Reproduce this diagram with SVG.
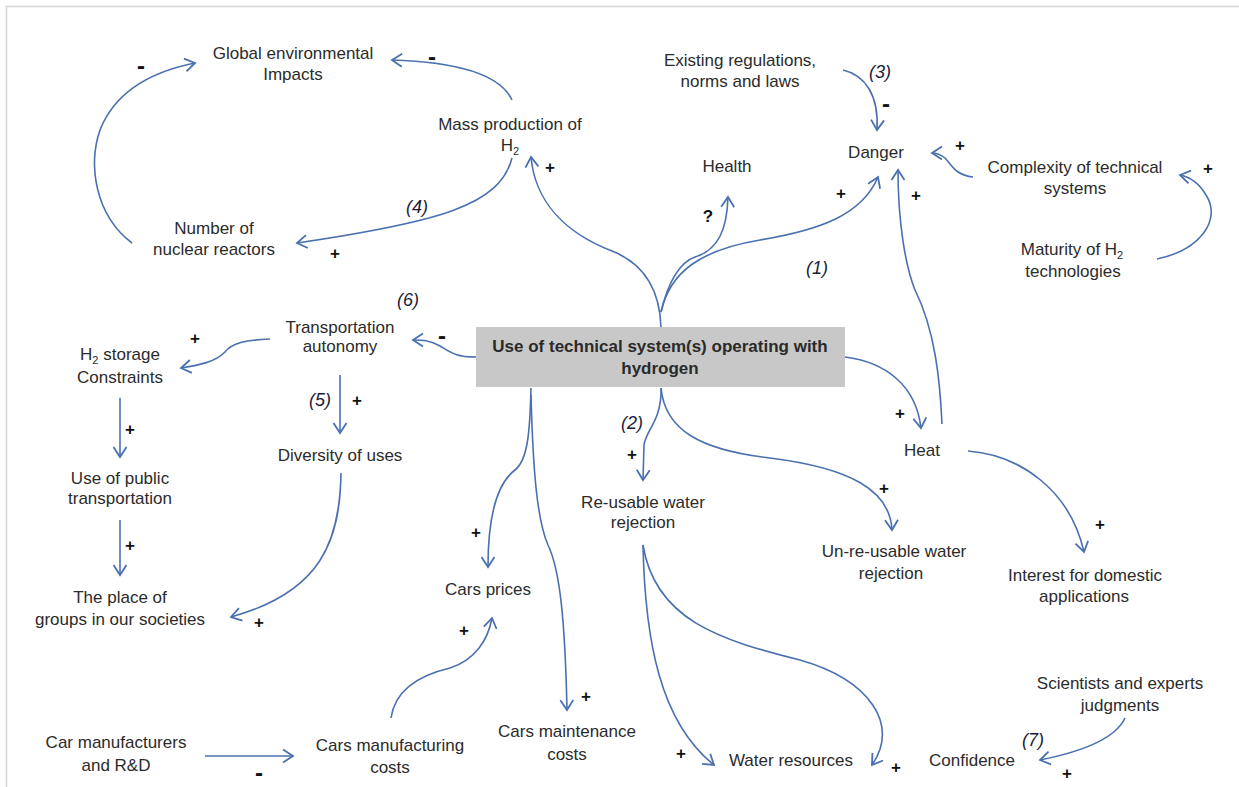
<svg xmlns="http://www.w3.org/2000/svg" width="1239" height="787" viewBox="0 0 1239 787">
  <style>
    .lbl { font-family: "Liberation Sans", Arial, sans-serif; font-size: 17px; fill: #2b2b2b; text-anchor: middle; }
    .main { font-family: "Liberation Sans", Arial, sans-serif; font-size: 17px; font-weight: bold; fill: #2a2a2a; text-anchor: middle; }
    .num { font-family: "Liberation Sans", Arial, sans-serif; font-size: 18px; font-style: italic; fill: #1c1c38; text-anchor: middle; }
    .sgn { font-family: "Liberation Sans", Arial, sans-serif; font-size: 17px; font-weight: bold; fill: #111111; text-anchor: middle; }
    .neg { font-family: "Liberation Sans", Arial, sans-serif; font-size: 24px; font-weight: bold; fill: #111111; text-anchor: middle; }
    .link { fill: none; stroke: #4a70b0; stroke-width: 1.6; marker-end: url(#chev); }
    .sub { font-size: 11px; }
  </style>
  <defs>
    <marker id="chev" markerUnits="userSpaceOnUse" markerWidth="16" markerHeight="16" refX="12" refY="8" orient="auto" overflow="visible">
      <path d="M2,1.5 L12,8 L2,14.5" fill="none" stroke="#4a70b0" stroke-width="1.8" stroke-linejoin="miter"/>
    </marker>
  </defs>

  <rect width="1239" height="787" fill="#ffffff"/>
  <!-- page frame -->
  <path d="M6.5,787 L6.5,6.5 L1239,6.5" fill="none" stroke="#d6d6d6" stroke-width="1.5"/>

  <!-- connectors -->
  <g id="connectors">
    <path class="link" d="M132,243 C 95,215 88,165 100,130 C 115,92 150,72 195,63"/>
    <path class="link" d="M512,100 C 500,74 455,62 392,60"/>
    <path class="link" d="M512,158 C 500,205 440,222 297,243"/>
    <path class="link" d="M661,327 C 660,298 650,266 612,251 C 563,232 535,200 531,157"/>
    <path class="link" d="M661,312 C 668,282 680,262 695,257 C 718,250 727,230 728,197"/>
    <path class="link" d="M661,312 C 670,272 700,250 760,240 C 820,230 862,215 878,177"/>
    <path class="link" d="M942,424 C 940,380 935,330 915,290 C 905,265 898,220 898,170"/>
    <path class="link" d="M843,70 C 865,75 879,95 877,130"/>
    <path class="link" d="M973,177 C 955,175 952,165 945,158 C 940,154 937,153 932,153"/>
    <path class="link" d="M1157,259 C 1200,250 1222,220 1206,195 C 1199,183 1190,177 1180,175"/>
    <path class="link" d="M476,357 C 455,357 450,352 440,346 C 430,340 422,340 413,340"/>
    <path class="link" d="M270,339 C 245,340 232,343 225,352 C 215,362 200,365 181,368"/>
    <path class="link" d="M340,375 L340,433"/>
    <path class="link" d="M120,398 L120,457"/>
    <path class="link" d="M120,520 L120,575"/>
    <path class="link" d="M341,473 C 340,540 322,592 231,617"/>
    <path class="link" d="M845,357 C 885,362 916,385 921,428"/>
    <path class="link" d="M968,451 C 1020,455 1070,490 1084,552"/>
    <path class="link" d="M661,388 C 662,420 646,430 644,445 L643,480"/>
    <path class="link" d="M661,388 C 665,430 700,450 770,458 C 850,468 890,490 892,530"/>
    <path class="link" d="M531,388 C 530,430 528,460 515,470 C 495,485 488,520 488,567"/>
    <path class="link" d="M531,395 C 533,470 537,520 548,545 C 560,570 565,620 567,710"/>
    <path class="link" d="M643,545 C 645,640 660,722 714,765"/>
    <path class="link" d="M643,545 C 655,620 720,640 800,660 C 870,680 900,725 872,765"/>
    <path class="link" d="M391,718 C 395,690 420,675 450,668 C 475,660 488,640 492,618"/>
    <path class="link" d="M205,756 L293,756"/>
    <path class="link" d="M1125,718 C 1115,740 1080,752 1040,760"/>
  </g>

  <!-- polarity marks -->
  <g id="signs">
    <text class="neg" x="141" y="74">-</text>
    <text class="neg" x="432" y="65">-</text>
    <text class="sgn" x="550" y="173">+</text>
    <text class="sgn" x="708" y="222" font-size="18">?</text>
    <text class="neg" x="886" y="112">-</text>
    <text class="sgn" x="960" y="151">+</text>
    <text class="sgn" x="1208" y="174">+</text>
    <text class="sgn" x="841" y="199">+</text>
    <text class="sgn" x="916" y="201">+</text>
    <text class="sgn" x="335" y="259">+</text>
    <text class="sgn" x="195" y="344">+</text>
    <text class="neg" x="442" y="344">-</text>
    <text class="sgn" x="357" y="406">+</text>
    <text class="sgn" x="130" y="435">+</text>
    <text class="sgn" x="130" y="551">+</text>
    <text class="sgn" x="259" y="628">+</text>
    <text class="sgn" x="632" y="460">+</text>
    <text class="sgn" x="900" y="419">+</text>
    <text class="sgn" x="884" y="494">+</text>
    <text class="sgn" x="476" y="538">+</text>
    <text class="sgn" x="1100" y="530">+</text>
    <text class="sgn" x="464" y="636">+</text>
    <text class="sgn" x="586" y="702">+</text>
    <text class="sgn" x="681" y="759">+</text>
    <text class="sgn" x="896" y="773">+</text>
    <text class="sgn" x="1067" y="779">+</text>
    <text class="neg" x="259" y="781">-</text>
  </g>

  <!-- loop numbers -->
  <g id="loop-numbers">
    <text class="num" x="880" y="78">(3)</text>
    <text class="num" x="417" y="213">(4)</text>
    <text class="num" x="817" y="274">(1)</text>
    <text class="num" x="408" y="306">(6)</text>
    <text class="num" x="320" y="406">(5)</text>
    <text class="num" x="632" y="429">(2)</text>
    <text class="num" x="1033" y="746">(7)</text>
  </g>

  <!-- nodes -->
  <g id="n-central">
    <rect x="476" y="327" width="369" height="60" fill="#c8c8c8"/>
    <text class="main" x="660" y="352">Use of technical system(s) operating with</text>
    <text class="main" x="660" y="374">hydrogen</text>
  </g>
  <g id="n-global">
    <text class="lbl" x="293" y="59">Global environmental</text>
    <text class="lbl" x="293" y="80">Impacts</text>
  </g>
  <g id="n-mass">
    <text class="lbl" x="510" y="130">Mass production of</text>
    <text class="lbl" x="510" y="151">H<tspan class="sub" dy="4">2</tspan></text>
  </g>
  <g id="n-regulations">
    <text class="lbl" x="740" y="66">Existing regulations,</text>
    <text class="lbl" x="740" y="87">norms and laws</text>
  </g>
  <g id="n-health">
    <text class="lbl" x="727" y="172">Health</text>
  </g>
  <g id="n-danger">
    <text class="lbl" x="876" y="158">Danger</text>
  </g>
  <g id="n-complexity">
    <text class="lbl" x="1075" y="173">Complexity of technical</text>
    <text class="lbl" x="1075" y="194">systems</text>
  </g>
  <g id="n-maturity">
    <text class="lbl" x="1072" y="255">Maturity of H<tspan class="sub" dy="4">2</tspan></text>
    <text class="lbl" x="1073" y="277">technologies</text>
  </g>
  <g id="n-nuclear">
    <text class="lbl" x="214" y="234">Number of</text>
    <text class="lbl" x="214" y="255">nuclear reactors</text>
  </g>
  <g id="n-autonomy">
    <text class="lbl" x="340" y="333">Transportation</text>
    <text class="lbl" x="340" y="352">autonomy</text>
  </g>
  <g id="n-storage">
    <text class="lbl" x="120" y="360">H<tspan class="sub" dy="4">2</tspan><tspan dy="-4"> storage</tspan></text>
    <text class="lbl" x="120" y="383">Constraints</text>
  </g>
  <g id="n-public">
    <text class="lbl" x="120" y="484">Use of public</text>
    <text class="lbl" x="120" y="504">transportation</text>
  </g>
  <g id="n-groups">
    <text class="lbl" x="120" y="603">The place of</text>
    <text class="lbl" x="120" y="625">groups in our societies</text>
  </g>
  <g id="n-diversity">
    <text class="lbl" x="340" y="461">Diversity of uses</text>
  </g>
  <g id="n-reusable">
    <text class="lbl" x="643" y="508">Re-usable water</text>
    <text class="lbl" x="643" y="528">rejection</text>
  </g>
  <g id="n-prices">
    <text class="lbl" x="488" y="595">Cars prices</text>
  </g>
  <g id="n-unreusable">
    <text class="lbl" x="894" y="557">Un-re-usable water</text>
    <text class="lbl" x="891" y="579">rejection</text>
  </g>
  <g id="n-heat">
    <text class="lbl" x="922" y="456">Heat</text>
  </g>
  <g id="n-domestic">
    <text class="lbl" x="1085" y="581">Interest for domestic</text>
    <text class="lbl" x="1084" y="602">applications</text>
  </g>
  <g id="n-manufacturers">
    <text class="lbl" x="116" y="748">Car manufacturers</text>
    <text class="lbl" x="116" y="771">and R&amp;D</text>
  </g>
  <g id="n-mfg-costs">
    <text class="lbl" x="390" y="751">Cars manufacturing</text>
    <text class="lbl" x="390" y="773">costs</text>
  </g>
  <g id="n-maintenance">
    <text class="lbl" x="567" y="737">Cars maintenance</text>
    <text class="lbl" x="567" y="760">costs</text>
  </g>
  <g id="n-water">
    <text class="lbl" x="791" y="766">Water resources</text>
  </g>
  <g id="n-confidence">
    <text class="lbl" x="972" y="766">Confidence</text>
  </g>
  <g id="n-scientists">
    <text class="lbl" x="1120" y="689">Scientists and experts</text>
    <text class="lbl" x="1120" y="711">judgments</text>
  </g>
</svg>
